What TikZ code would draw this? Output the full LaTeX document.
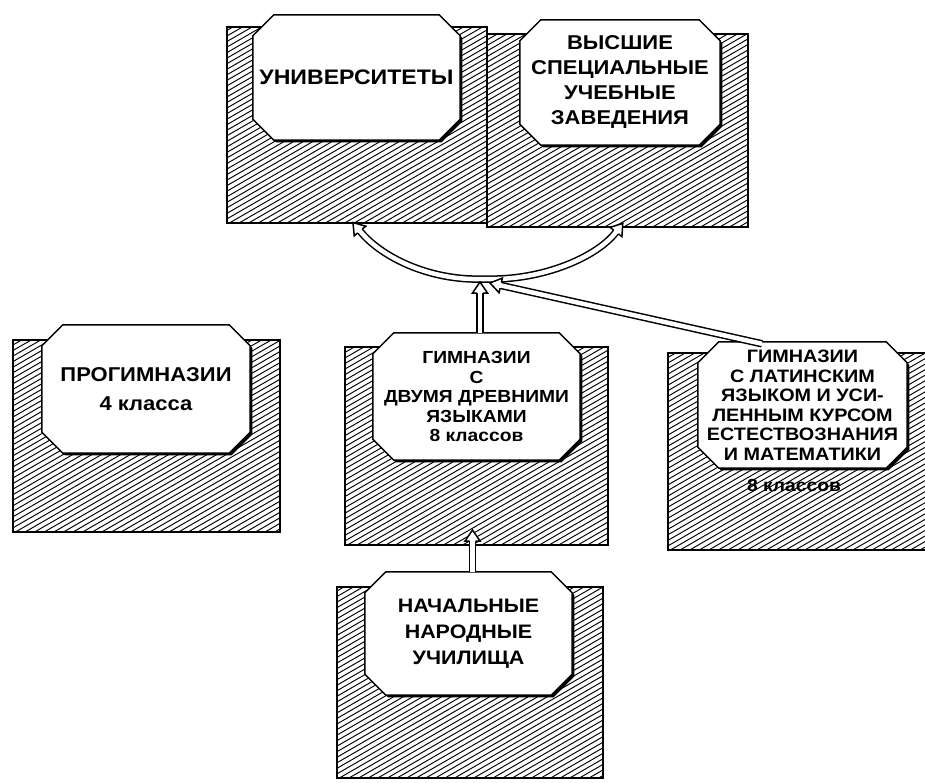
\documentclass[tikz,border=0pt]{standalone}
\usepackage{fontspec}
\newfontfamily\lbl{Liberation Sans}[FakeStretch=1.1]
\usetikzlibrary{calc}
\pgfdeclarelayer{panels}
\pgfdeclarelayer{boxes}
\pgfsetlayers{panels,boxes,main}

% octagonal outline built on the anchors of a rectangular node
% #1 node, #2 chamfer, #3/#4 extra x/y offset
\newcommand\octpath[4]{%
 ([xshift=#2+#3,yshift=#4]#1.north west) --
 ([xshift=-#2+#3,yshift=#4]#1.north east) --
 ([xshift=#3,yshift=-#2+#4]#1.north east) --
 ([xshift=#3,yshift=#2+#4]#1.south east) --
 ([xshift=-#2+#3,yshift=#4]#1.south east) --
 ([xshift=#2+#3,yshift=#4]#1.south west) --
 ([xshift=#3,yshift=#2+#4]#1.south west) --
 ([xshift=#3,yshift=-#2+#4]#1.north west) -- cycle}

% white box with a black shadow to the lower right
\newcommand\whitebox[1]{%
 \fill[black] \octpath{#1}{21pt}{2.2pt}{-2.2pt};
 \filldraw[fill=white, draw=black, line width=1.5pt] \octpath{#1}{21pt}{0pt}{0pt};}

% open arrow head: base centre #1, direction #2 (degrees)
\newcommand\headat[2]{%
 \begin{scope}[shift={(#1)}, rotate=#2]
  \fill[white] (-0.8pt,-2.2pt) rectangle (0.5pt,2.2pt);
  \fill[white] (0pt,7.5pt) -- (11pt,0pt) -- (0pt,-7.5pt) -- cycle;
  \draw[line width=1.5pt, line join=miter]
    (0pt,3pt) -- (0pt,7.5pt) -- (11pt,0pt) -- (0pt,-7.5pt) -- (0pt,-3pt);
 \end{scope}}

\tikzset{
  panel/.style={draw=black, line width=1.5pt, inner sep=0pt,
    path picture={
      \foreach \i in {0,...,80}
        \draw[line width=0.95pt]
          ([xshift=\i*9.6pt-420pt]path picture bounding box.south west)
          -- ++(30:720pt);
    }},
  lab/.style={inner sep=0pt, align=center},
  bandout/.style={draw=black, line width=7.5pt},
  bandin/.style={draw=white, line width=4.5pt}
}

\begin{document}
\begin{tikzpicture}[x=1pt, y=-1pt]
\useasboundingbox (0,0) rectangle (925,782);
\clip (0,0) rectangle (925,782);

% ---------- text of the boxes ----------
\node[lab, minimum width=207pt, minimum height=125pt,
      font=\lbl\bfseries\fontsize{21}{25}\selectfont]
  (univ) at (356.5,77.5) {УНИВЕРСИТЕТЫ};
\node[lab, minimum width=200pt, minimum height=125pt,
      font=\lbl\bfseries\fontsize{20}{25}\selectfont]
  (vuz) at (620,82.5) {ВЫСШИЕ\\СПЕЦИАЛЬНЫЕ\\УЧЕБНЫЕ\\ЗАВЕДЕНИЯ};
\node[lab, minimum width=208pt, minimum height=128pt,
      font=\lbl\bfseries\fontsize{20}{29}\selectfont]
  (prog) at (146,389) {ПРОГИМНАЗИИ\\4 класса};
\node[lab, minimum width=207pt, minimum height=127pt,
      font=\lbl\bfseries\fontsize{17.5}{19.5}\selectfont]
  (gymc) at (476.5,396.5) {ГИМНАЗИИ\\С\\ДВУМЯ ДРЕВНИМИ\\ЯЗЫКАМИ\\8 классов};
\node[lab, minimum width=209pt, minimum height=126pt,
      font=\lbl\bfseries\fontsize{18}{19.5}\selectfont]
  (gyml) at (802.5,405) {ГИМНАЗИИ\\С ЛАТИНСКИМ\\ЯЗЫКОМ И УСИ-\\ЛЕННЫМ КУРСОМ\\ЕСТЕСТВОЗНАНИЯ\\И МАТЕМАТИКИ};
\node[lab, font=\lbl\bfseries\fontsize{17.5}{19.5}\selectfont]
  (cls) at (794,485) {8 классов};
\node[lab, minimum width=207pt, minimum height=123pt,
      font=\lbl\bfseries\fontsize{19.5}{26}\selectfont]
  (nach) at (468.5,633.5) {НАЧАЛЬНЫЕ\\НАРОДНЫЕ\\УЧИЛИЩА};

% ---------- hatched panels ----------
\begin{pgfonlayer}{panels}
\node[panel, minimum width=260pt, minimum height=196pt] (pu) at (357,125) {};
\node[panel, minimum width=261pt, minimum height=193pt] (pv) at (617.5,130.5) {};
\node[panel, minimum width=267pt, minimum height=192pt] (pp) at (146.5,436) {};
\node[panel, minimum width=263pt, minimum height=198pt] (pg) at (476.5,446) {};
\node[panel, minimum width=267pt, minimum height=197pt] (pl) at (801.5,451.5) {};
\node[panel, minimum width=266pt, minimum height=191pt] (pn) at (470,682.5) {};
\end{pgfonlayer}

% ---------- white boxes ----------
\begin{pgfonlayer}{boxes}
\whitebox{univ}
\whitebox{vuz}
\whitebox{prog}
\whitebox{gymc}
\whitebox{gyml}
\whitebox{nach}
\end{pgfonlayer}

% ---------- connectors ----------
\coordinate (jn) at (484,279);
\coordinate (bl) at (360,231);
\coordinate (br) at (616,232);
\coordinate (bc) at (480,293);
\coordinate (bg) at (500.7,285.4);
\coordinate (bn) at (472.5,541);

\foreach \s in {bandout,bandin}{
  \draw[\s] (jn) .. controls (428,281) and (380,256) .. (bl);
  \draw[\s] (jn) .. controls (544,281) and (598,256) .. (br);
  \draw[\s] ([xshift=3.5pt]gymc.north) -- (bc);
  \draw[\s] ([xshift=-40.5pt,yshift=-2pt]gyml.north) -- (bg);
  \draw[\s] ([xshift=4pt]nach.north) -- (bn);
}

\headat{bl}{129.8}
\headat{br}{52}
\headat{bc}{90}
\headat{bg}{167.2}
\headat{bn}{90}

\end{tikzpicture}
\end{document}
